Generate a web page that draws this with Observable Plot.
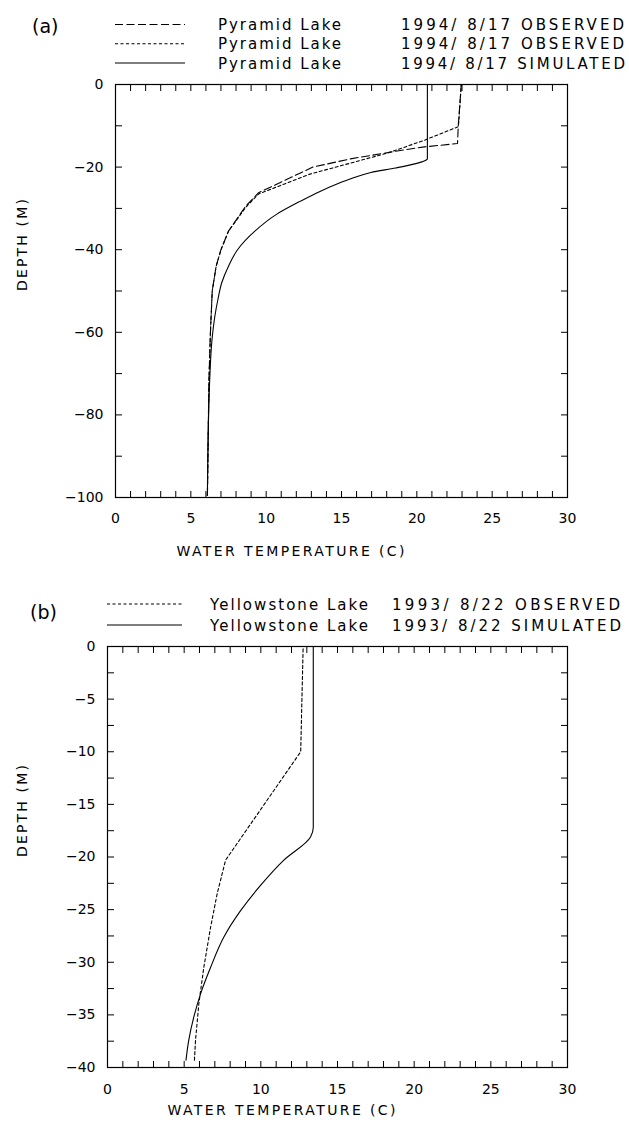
<!DOCTYPE html>
<html><head><meta charset="utf-8">
<script src="https://cdn.jsdelivr.net/npm/d3@7"></script>
<script src="https://cdn.jsdelivr.net/npm/@observablehq/plot@0.6"></script>
<style>
body{margin:0;background:#fff;}
#root{position:relative;width:629px;height:1133px;overflow:hidden;background:#fff;}
svg{display:block;}
</style></head><body><div id="root"></div>
<script>
// ---------- data ----------
const tempTickLabels = [0, 5, 10, 15, 20, 25, 30];
const tempMinorTicks = [0,1,2,3,4,5,6,7,8,9,10,11,12,13,14,15,16,17,18,19,20,21,22,23,24,25,26,27,28,29,30];
const pyramidDepthTicks = [0, -10, -20, -30, -40, -50, -60, -70, -80, -90, -100];
const pyramidDepthLabels = [0, -20, -40, -60, -80, -100];
const yellowDepthTicks = [0, -2.5, -5, -7.5, -10, -12.5, -15, -17.5, -20, -22.5, -25, -27.5, -30, -32.5, -35, -37.5, -40];
const yellowDepthLabels = [0, -5, -10, -15, -20, -25, -30, -35, -40];

// Pyramid Lake 1994/8/17 observed (long dash)
const pyrObsA_T = [22.95, 22.85, 22.75, 22.7, 20.5, 18.7, 15.6, 13.1, 9.5, 8.65, 7.5, 7.0, 6.68, 6.42, 6.3, 6.2, 6.1];
const pyrObsA_D = [0, -5, -10, -14.3, -15.1, -16.1, -18, -20, -26.2, -29.4, -35.5, -40, -44, -50, -60, -72, -99.5];
// Pyramid Lake 1994/8/17 observed (short dash)
const pyrObsB_T = [22.95, 22.85, 22.76, 20.5, 18.06, 12.9, 9.5, 8.65, 7.5, 7.0, 6.68, 6.42, 6.3, 6.2, 6.1];
const pyrObsB_D = [0, -5.5, -10.2, -13.5, -16.6, -21.7, -26.5, -29.7, -35.5, -40, -44, -50, -60, -72, -99.5];
// Pyramid Lake simulated (solid)
const pyrSim_T = [20.7, 20.7, 20.45, 20.0, 18.6, 16.95, 15.8, 14.7, 13.5, 12.3, 10.66, 9.25, 8.1, 7.5, 7.05, 6.8, 6.6, 6.4, 6.27, 6.18, 6.1];
const pyrSim_D = [0, -18, -18.6, -19.1, -20.2, -21.3, -22.6, -24.1, -26, -28.2, -31.5, -35.5, -40, -44, -48, -52, -56, -62, -70, -80, -99.5];

// Yellowstone Lake 1993/8/22 observed (short dash)
const yelObs_T = [12.76, 12.6, 7.7, 7.15, 6.72, 6.28, 5.96, 5.74, 5.67];
const yelObs_D = [0, -10, -20.3, -23.5, -26.7, -30.5, -33.9, -37.4, -39.3];
// Yellowstone Lake simulated (solid)
const yelSim_T = [13.42, 13.42, 13.24, 11.5, 9.98, 8.68, 7.59, 6.72, 6.07, 5.63, 5.3, 5.12];
const yelSim_D = [0, -17.2, -18.1, -20.3, -22.7, -25.1, -27.6, -30.5, -33, -35.2, -37.4, -39.3];

const pyrLegendLake = ["Pyramid Lake", "Pyramid Lake", "Pyramid Lake"];
const pyrLegendDate = ["1994/ 8/17 OBSERVED", "1994/ 8/17 OBSERVED", "1994/ 8/17 SIMULATED"];
const yelLegendLake = ["Yellowstone Lake", "Yellowstone Lake"];
const yelLegendDate = ["1993/ 8/22 OBSERVED", "1993/ 8/22 SIMULATED"];

const xTitle = "WATER TEMPERATURE (C)";
const yTitle = "DEPTH (M)";

// ---------- drawing ----------
const FONT = "DejaVu Sans";
const DASH = {long: "8,3.5", short: "3,2.5", solid: null};
const root = document.getElementById("root");

function toRows(T, D) { return T.map((t, i) => ({t, d: D[i]})).sort((a, b) => a.d - b.d); }

function legend({height, tag, tagX, tagY, lineX1, lineX2, lakeX, lakeW, dateX, dateW, baselines, lakes, dates, dashes}) {
  const svg = d3.create("svg").attr("width", 629).attr("height", height)
    .attr("font-family", FONT).attr("fill", "black");
  svg.append("text").attr("x", tagX).attr("y", tagY).attr("font-size", 19)
    .attr("dominant-baseline", "central").text(tag);
  baselines.forEach((y, i) => {
    const ln = svg.append("line").attr("x1", lineX1).attr("x2", lineX2)
      .attr("y1", y - 5.5).attr("y2", y - 5.5).attr("stroke", "black").attr("stroke-width", 1.1);
    if (DASH[dashes[i]]) ln.attr("stroke-dasharray", DASH[dashes[i]]);
    svg.append("text").attr("x", lakeX).attr("y", y).attr("font-size", 15)
      .attr("textLength", lakeW).attr("lengthAdjust", "spacing").text(lakes[i]);
    svg.append("text").attr("x", dateX).attr("y", y).attr("font-size", 15)
      .attr("xml:space", "preserve").style("white-space", "pre")
      .attr("textLength", dateW[i]).attr("lengthAdjust", "spacing").text(dates[i]);
  });
  return svg.node();
}

function panel({height, marginTop, marginBottom, marginLeft, marginRight, yDomain, yTicks, yLabels, series, labelPad, titleDx, titleDy, yTitleDx}) {
  const marks = [
    Plot.axisX(tempMinorTicks, {anchor: "bottom", tickSize: -6, tickFormat: () => "", label: null}),
    Plot.axisX(tempMinorTicks, {anchor: "top", tickSize: -6, tickFormat: () => "", label: null}),
    Plot.axisX(tempTickLabels, {anchor: "bottom", tickSize: 0, tickPadding: labelPad, label: null}),
    Plot.axisY(yTicks, {anchor: "left", tickSize: -7, tickFormat: () => "", label: null}),
    Plot.axisY(yTicks, {anchor: "right", tickSize: -7, tickFormat: () => "", label: null}),
    Plot.axisY(yLabels, {anchor: "left", tickSize: 0, tickPadding: 12, label: null}),
    Plot.frame({stroke: "black", strokeWidth: 1.2}),
    ...series.map(s => Plot.line(toRows(s.T, s.D), {x: "t", y: "d", stroke: "black", strokeWidth: 1.1,
      curve: s.curve || "linear", strokeDasharray: DASH[s.dash] || undefined})),
    Plot.text([xTitle], {text: d => d, frameAnchor: "bottom-left", textAnchor: "start", lineAnchor: "middle",
      dx: titleDx, dy: titleDy, fontSize: 14}),
    Plot.text([yTitle], {text: d => d, frameAnchor: "left", rotate: -90, dx: yTitleDx, fontSize: 14})
  ];
  const p = Plot.plot({
    width: 629, height, marginTop, marginBottom, marginLeft, marginRight,
    style: {fontFamily: FONT, fontSize: "14px", color: "black", background: "white"},
    x: {domain: [0, 30]},
    y: {domain: yDomain},
    marks
  });
  p.querySelectorAll("text").forEach(t => {
    if (t.textContent === xTitle) { t.setAttribute("textLength", 228); t.setAttribute("lengthAdjust", "spacing"); }
    if (t.textContent === yTitle) { t.setAttribute("textLength", 92); t.setAttribute("lengthAdjust", "spacing"); }
  });
  return p;
}

root.appendChild(legend({
  height: 74, tag: "(a)", tagX: 32, tagY: 26, lineX1: 115, lineX2: 185,
  lakeX: 218, lakeW: 123, dateX: 401, dateW: [223, 223, 224],
  baselines: [30, 49.3, 68.5], lakes: pyrLegendLake, dates: pyrLegendDate,
  dashes: ["long", "short", "solid"]
}));
root.appendChild(panel({
  height: 491, marginTop: 10, marginBottom: 68, marginLeft: 115, marginRight: 62,
  yDomain: [-100, 0], yTicks: pyramidDepthTicks, yLabels: pyramidDepthLabels,
  series: [
    {T: pyrObsA_T, D: pyrObsA_D, dash: "long"},
    {T: pyrObsB_T, D: pyrObsB_D, dash: "short"},
    {T: pyrSim_T, D: pyrSim_D, dash: "solid", curve: "monotone-y"}
  ],
  labelPad: 16, titleDx: 61, titleDy: 54, yTitleDx: -93
}));
root.appendChild(legend({
  height: 71, tag: "(b)", tagX: 30, tagY: 47, lineX1: 107, lineX2: 182,
  lakeX: 210, lakeW: 158, dateX: 392, dateW: [228, 229],
  baselines: [44.5, 65.5], lakes: yelLegendLake, dates: yelLegendDate,
  dashes: ["short", "solid"]
}));
root.appendChild(panel({
  height: 497, marginTop: 10, marginBottom: 66, marginLeft: 107, marginRight: 62,
  yDomain: [-40, 0], yTicks: yellowDepthTicks, yLabels: yellowDepthLabels,
  series: [
    {T: yelObs_T, D: yelObs_D, dash: "short"},
    {T: yelSim_T, D: yelSim_D, dash: "solid", curve: "monotone-y"}
  ],
  labelPad: 17, titleDx: 60, titleDy: 43, yTitleDx: -85
}));
</script>
</body></html>
